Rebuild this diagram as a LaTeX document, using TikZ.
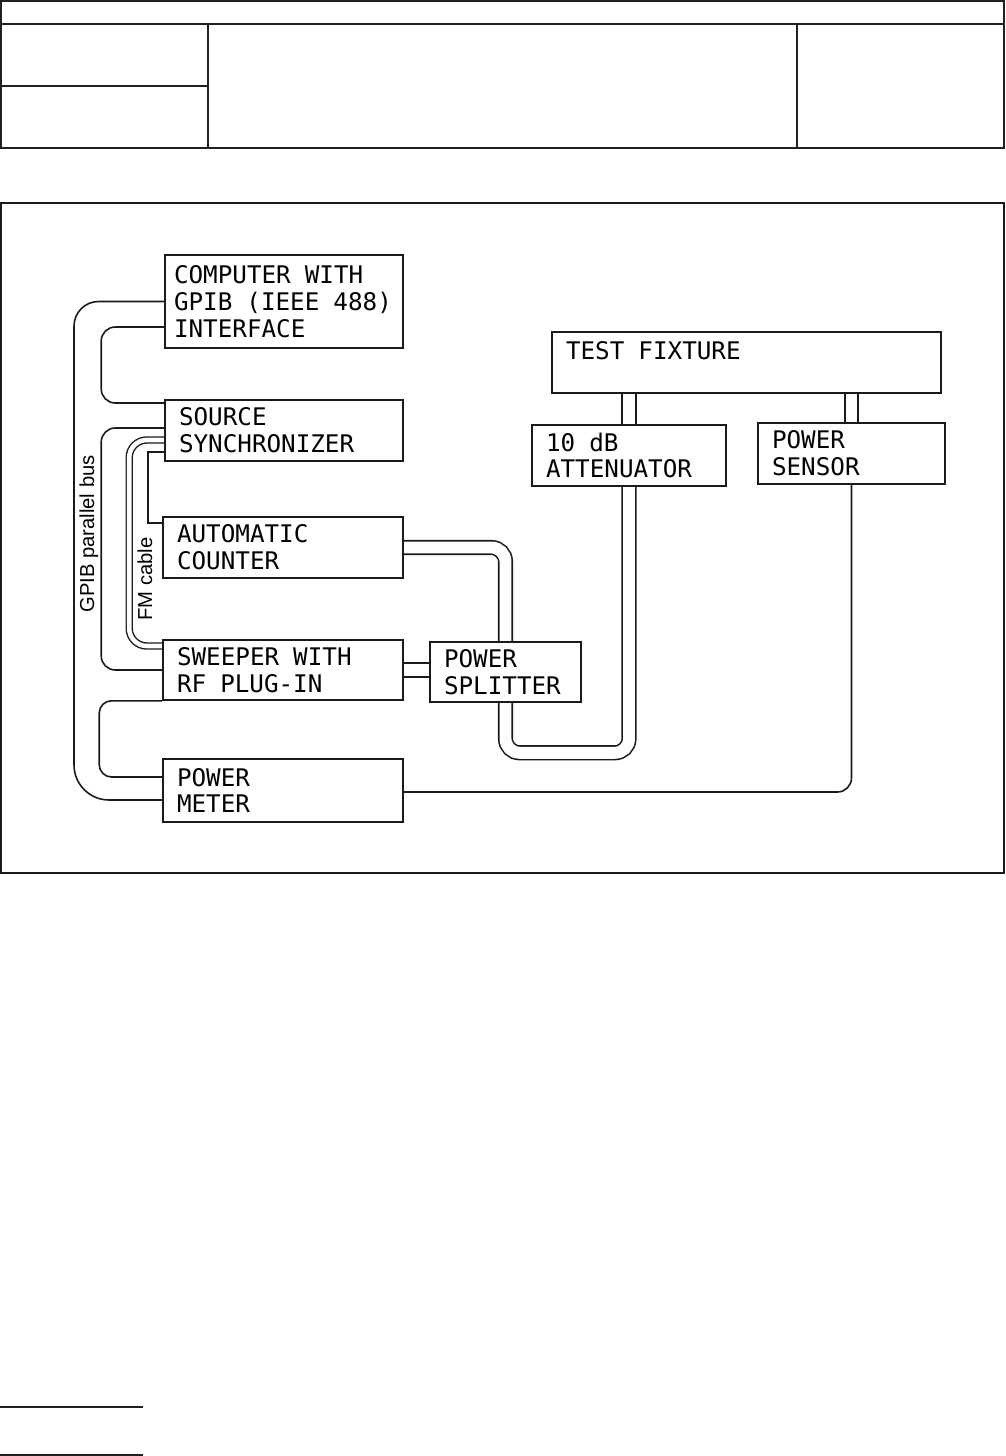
\documentclass[tikz,border=0pt]{standalone}
\usepackage{fontspec}
\setmainfont{Liberation Sans}
\newfontfamily\plotfont{DejaVu Sans Mono}
\newcommand\plotsize{\plotfont\fontsize{13.8}{15.3}\selectfont\spaceskip=8pt\relax}
\usetikzlibrary{calc,backgrounds}
\definecolor{cInk}{HTML}{1A1A1A}
\definecolor{cRule}{HTML}{231F20}

\begin{document}
\begin{tikzpicture}[x=0.02cm,y=-0.02cm,
  dev/.style={draw=cInk,line width=0.9pt,text width=#1,inner xsep=2.8mm,inner ysep=0pt,
    minimum height=12.2mm,align=flush left,font=\plotsize},
  wire/.style={draw=cInk,line width=0.9pt},
  coax/.style={draw=cInk,line width=0.9pt,double=white,double distance=6.8pt},
  fmcoax/.style={draw=cInk,line width=0.8pt,double=white,double distance=2.6pt},
  lbl/.style={rotate=90,inner sep=0pt,font=\fontsize{11.5}{13}\selectfont},
  rule/.style={draw=cRule,line width=1.1pt}]
\useasboundingbox (0,0) rectangle (1006,1456);
% ---------- page header ----------
\draw[rule] (1,1) rectangle (1004,148);
\draw[rule] (1,24) -- (1004,24);
\draw[rule] (1,86) -- (208,86);
\draw[rule] (208,24) -- (208,148);
\draw[rule] (797,24) -- (797,148);
\draw[rule] (0,1407) -- (143,1407);
\draw[rule] (0,1455) -- (143,1455);
% ---------- figure frame ----------
\draw[draw=cInk,line width=0.9pt] (1,203) rectangle (1004,873);
% ---------- instruments ----------
\node[dev=44mm,inner xsep=1.8mm,minimum height=18.6mm] (comp) at (284,301.5) {COMPUTER WITH\\GPIB (IEEE 488)\\INTERFACE};
\node[dev=42mm] (sync) at (284,430.5) {SOURCE\\SYNCHRONIZER};
\node[dev=42.4mm] (counter) at (283,547.5) {AUTOMATIC\\COUNTER};
\node[dev=42.4mm,minimum height=12mm] (sweeper) at (283,670) {SWEEPER WITH\\RF PLUG-IN};
\node[dev=42.4mm,minimum height=12.6mm] (meter) at (283,790.5) {POWER\\METER};
\node[dev=72.2mm] (fixture) at (746.5,362.5) {TEST FIXTURE\\[-2mm]\strut};
\node[dev=33.2mm] (atten) at (629,455.5) {10 dB\\ATTENUATOR};
\node[dev=31.8mm] (sensor) at (851.5,453.5) {POWER\\SENSOR};
\node[dev=24.6mm,minimum height=12mm] (splitter) at (505.5,672) {POWER\\SPLITTER};
\node[lbl] (gpib) at (89,534) {GPIB parallel bus};
\node[lbl] (fmlbl) at (145,579) {FM cable};
% ---------- cables ----------
\begin{scope}[on background layer]
\draw[wire] (comp.west) [rounded corners=14pt]-- (74,301.5) [rounded corners=20pt]-- (74,800) -- ($(meter.west)+(0,9.5)$);
\draw[wire,rounded corners=8pt] ($(comp.west)+(0,25.5)$) -- ++(-63,0) |- ($(sync.west)+(0,-27.5)$);
\draw[wire,rounded corners=8pt] ($(sync.west)+(0,-2.5)$) -- ++(-63,0) |- (sweeper.west);
\draw[wire,rounded corners=7pt] (sweeper.south west) -- ++(-63,0) |- ($(meter.west)+(0,-13.5)$);
\draw[fmcoax,rounded corners=10pt] ($(sync.west)+(0,9.5)$) -- ++(-35,0) |- ($(sweeper.west)+(0,-24)$);
\draw[wire] ($(sync.west)+(0,21.5)$) -- ++(-16,0) |- ($(counter.west)+(0,-24.5)$);
\draw[coax] (atten.north) -- (atten.north |- fixture.south);
\draw[coax] (sensor.north) -- (sensor.north |- fixture.south);
\draw[coax,rounded corners=8pt] (atten.south) -- ++(0,266) -| (splitter.south);
\draw[coax,rounded corners=8pt] (counter.east) -| (splitter.north);
\draw[coax] (sweeper.east) -- (sweeper.east -| splitter.west);
\draw[wire,rounded corners=8pt] (sensor.south) |- ($(meter.east)+(0,1.5)$);
\end{scope}
\end{tikzpicture}
\end{document}
